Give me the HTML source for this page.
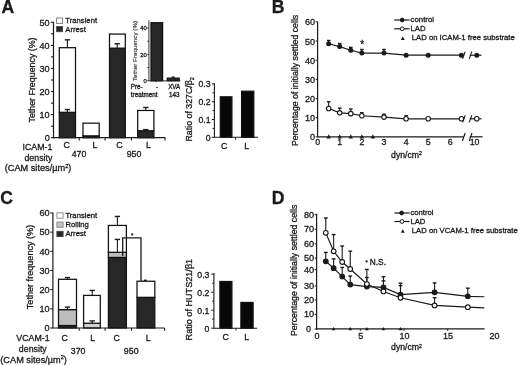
<!DOCTYPE html>
<html><head><meta charset="utf-8"><style>
html,body{margin:0;padding:0;background:#fff;}
svg{display:block;filter:blur(0.35px);}
text{font-family:"Liberation Sans",sans-serif;stroke:#1a1a1a;stroke-width:0.3px;paint-order:stroke;}
</style></head><body>
<svg width="520" height="365" viewBox="0 0 520 365">
<rect width="520" height="365" fill="#fff"/>
<text x="1.60" y="12.90" font-size="17.6" text-anchor="start" font-weight="bold" fill="#1a1a1a">A</text>
<text x="271.80" y="12.70" font-size="17.6" text-anchor="start" font-weight="bold" fill="#1a1a1a">B</text>
<text x="0.20" y="203.60" font-size="17.6" text-anchor="start" font-weight="bold" fill="#1a1a1a">C</text>
<text x="271.80" y="203.50" font-size="17.6" text-anchor="start" font-weight="bold" fill="#1a1a1a">D</text>
<rect x="59.30" y="112.31" width="16.20" height="25.39" fill="#272727" stroke="#111" stroke-width="1.25"/>
<rect x="59.30" y="47.69" width="16.20" height="64.62" fill="#fff" stroke="#111" stroke-width="1.25"/>
<line x1="67.40" y1="47.69" x2="67.40" y2="39.84" stroke="#1a1a1a" stroke-width="1.1"/>
<line x1="64.75" y1="39.84" x2="70.05" y2="39.84" stroke="#1a1a1a" stroke-width="1.4"/>
<line x1="67.40" y1="112.31" x2="67.40" y2="109.54" stroke="#1a1a1a" stroke-width="1.1"/>
<line x1="64.75" y1="109.54" x2="70.05" y2="109.54" stroke="#1a1a1a" stroke-width="1.4"/>
<rect x="83.00" y="135.85" width="16.20" height="1.85" fill="#272727" stroke="#111" stroke-width="1.25"/>
<rect x="83.00" y="123.16" width="16.20" height="12.69" fill="#fff" stroke="#111" stroke-width="1.25"/>
<rect x="109.50" y="48.15" width="15.80" height="89.55" fill="#272727" stroke="#111" stroke-width="1.25"/>
<rect x="109.50" y="34.07" width="15.80" height="14.08" fill="#fff" stroke="#111" stroke-width="1.25"/>
<line x1="117.20" y1="48.15" x2="117.20" y2="43.76" stroke="#1a1a1a" stroke-width="1.1"/>
<line x1="114.55" y1="43.76" x2="119.85" y2="43.76" stroke="#1a1a1a" stroke-width="1.4"/>
<rect x="137.70" y="130.78" width="16.20" height="6.92" fill="#272727" stroke="#111" stroke-width="1.25"/>
<rect x="137.70" y="110.47" width="16.20" height="20.31" fill="#fff" stroke="#111" stroke-width="1.25"/>
<line x1="145.80" y1="110.47" x2="145.80" y2="107.47" stroke="#1a1a1a" stroke-width="1.1"/>
<line x1="143.15" y1="107.47" x2="148.45" y2="107.47" stroke="#1a1a1a" stroke-width="1.4"/>
<line x1="145.80" y1="130.78" x2="145.80" y2="129.62" stroke="#1a1a1a" stroke-width="1.1"/>
<line x1="143.15" y1="129.62" x2="148.45" y2="129.62" stroke="#1a1a1a" stroke-width="1.4"/>
<line x1="53.50" y1="21.80" x2="53.50" y2="138.30" stroke="#1a1a1a" stroke-width="1.2"/>
<line x1="52.90" y1="137.70" x2="165.30" y2="137.70" stroke="#1a1a1a" stroke-width="1.2"/>
<line x1="50.90" y1="137.70" x2="53.50" y2="137.70" stroke="#1a1a1a" stroke-width="1.1"/>
<line x1="50.90" y1="126.16" x2="53.50" y2="126.16" stroke="#1a1a1a" stroke-width="1.1"/>
<line x1="50.90" y1="114.62" x2="53.50" y2="114.62" stroke="#1a1a1a" stroke-width="1.1"/>
<line x1="50.90" y1="103.08" x2="53.50" y2="103.08" stroke="#1a1a1a" stroke-width="1.1"/>
<line x1="50.90" y1="91.54" x2="53.50" y2="91.54" stroke="#1a1a1a" stroke-width="1.1"/>
<line x1="50.90" y1="80.00" x2="53.50" y2="80.00" stroke="#1a1a1a" stroke-width="1.1"/>
<line x1="50.90" y1="68.46" x2="53.50" y2="68.46" stroke="#1a1a1a" stroke-width="1.1"/>
<line x1="50.90" y1="56.92" x2="53.50" y2="56.92" stroke="#1a1a1a" stroke-width="1.1"/>
<line x1="50.90" y1="45.38" x2="53.50" y2="45.38" stroke="#1a1a1a" stroke-width="1.1"/>
<line x1="50.90" y1="33.84" x2="53.50" y2="33.84" stroke="#1a1a1a" stroke-width="1.1"/>
<line x1="50.90" y1="22.30" x2="53.50" y2="22.30" stroke="#1a1a1a" stroke-width="1.1"/>
<text x="49.70" y="141.00" font-size="9.1" text-anchor="end" font-weight="normal" fill="#1a1a1a">0</text>
<text x="49.70" y="117.92" font-size="9.1" text-anchor="end" font-weight="normal" fill="#1a1a1a">10</text>
<text x="49.70" y="94.84" font-size="9.1" text-anchor="end" font-weight="normal" fill="#1a1a1a">20</text>
<text x="49.70" y="71.76" font-size="9.1" text-anchor="end" font-weight="normal" fill="#1a1a1a">30</text>
<text x="49.70" y="48.68" font-size="9.1" text-anchor="end" font-weight="normal" fill="#1a1a1a">40</text>
<text x="49.70" y="25.60" font-size="9.1" text-anchor="end" font-weight="normal" fill="#1a1a1a">50</text>
<line x1="79.20" y1="137.70" x2="79.20" y2="140.40" stroke="#1a1a1a" stroke-width="1.1"/>
<line x1="105.10" y1="137.70" x2="105.10" y2="140.40" stroke="#1a1a1a" stroke-width="1.1"/>
<line x1="131.40" y1="137.70" x2="131.40" y2="140.40" stroke="#1a1a1a" stroke-width="1.1"/>
<line x1="165.00" y1="137.70" x2="165.00" y2="140.40" stroke="#1a1a1a" stroke-width="1.1"/>
<rect x="56.60" y="18.00" width="6.00" height="5.40" fill="#fff" stroke="#777" stroke-width="0.9"/>
<text x="65.30" y="23.20" font-size="7.7" text-anchor="start" font-weight="normal" fill="#1a1a1a">Transient</text>
<rect x="56.60" y="26.60" width="6.00" height="5.10" fill="#272727" stroke="#444" stroke-width="0.9"/>
<text x="65.30" y="31.70" font-size="7.7" text-anchor="start" font-weight="normal" fill="#1a1a1a">Arrest</text>
<text x="35.20" y="80.00" font-size="8.85" text-anchor="middle" font-weight="normal" fill="#1a1a1a" transform="rotate(-90 35.20 80.00)">Tether Frequency (%)</text>
<text x="66.60" y="148.40" font-size="8.8" text-anchor="middle" font-weight="normal" fill="#1a1a1a">C</text>
<text x="95.00" y="148.40" font-size="8.8" text-anchor="middle" font-weight="normal" fill="#1a1a1a">L</text>
<text x="119.40" y="148.40" font-size="8.8" text-anchor="middle" font-weight="normal" fill="#1a1a1a">C</text>
<text x="148.40" y="148.40" font-size="8.8" text-anchor="middle" font-weight="normal" fill="#1a1a1a">L</text>
<text x="79.00" y="156.80" font-size="8.8" text-anchor="middle" font-weight="normal" fill="#1a1a1a">470</text>
<text x="134.00" y="156.80" font-size="8.8" text-anchor="middle" font-weight="normal" fill="#1a1a1a">950</text>
<text x="52.40" y="149.80" font-size="8.8" text-anchor="end" font-weight="normal" fill="#1a1a1a">ICAM-1</text>
<text x="38.40" y="160.60" font-size="8.8" text-anchor="middle" font-weight="normal" fill="#1a1a1a">density</text>
<text x="38.00" y="171.40" font-size="9.2" text-anchor="middle" font-weight="normal" fill="#1a1a1a">(CAM sites/&#181;m<tspan font-size="5.5" dy="-3.5">2</tspan><tspan dy="3.5">)</tspan></text>
<rect x="151.00" y="22.72" width="11.60" height="58.08" fill="#272727" stroke="#111" stroke-width="1.25"/>
<rect x="167.30" y="78.16" width="11.90" height="2.64" fill="#272727" stroke="#111" stroke-width="1.25"/>
<line x1="173.20" y1="78.16" x2="173.20" y2="77.10" stroke="#1a1a1a" stroke-width="1.1"/>
<line x1="171.70" y1="77.10" x2="174.70" y2="77.10" stroke="#1a1a1a" stroke-width="1.4"/>
<line x1="148.90" y1="20.30" x2="148.90" y2="80.90" stroke="#1a1a1a" stroke-width="0.9"/>
<line x1="148.90" y1="80.80" x2="180.40" y2="80.80" stroke="#1a1a1a" stroke-width="0.9"/>
<line x1="147.10" y1="80.80" x2="148.90" y2="80.80" stroke="#1a1a1a" stroke-width="0.8"/>
<line x1="147.10" y1="67.60" x2="148.90" y2="67.60" stroke="#1a1a1a" stroke-width="0.8"/>
<line x1="147.10" y1="54.40" x2="148.90" y2="54.40" stroke="#1a1a1a" stroke-width="0.8"/>
<line x1="147.10" y1="41.20" x2="148.90" y2="41.20" stroke="#1a1a1a" stroke-width="0.8"/>
<line x1="147.10" y1="28.00" x2="148.90" y2="28.00" stroke="#1a1a1a" stroke-width="0.8"/>
<text x="146.80" y="82.90" font-size="5.8" text-anchor="end" font-weight="normal" fill="#1a1a1a">0</text>
<text x="146.80" y="56.50" font-size="5.8" text-anchor="end" font-weight="normal" fill="#1a1a1a">20</text>
<text x="146.80" y="30.10" font-size="5.8" text-anchor="end" font-weight="normal" fill="#1a1a1a">40</text>
<line x1="156.00" y1="80.80" x2="156.00" y2="82.30" stroke="#1a1a1a" stroke-width="0.8"/>
<text x="137.20" y="51.00" font-size="6.25" text-anchor="middle" font-weight="normal" fill="#333" transform="rotate(-90 137.20 51.00)" style="stroke-width:0.15px;stroke:#333">Tether Frequency (%)</text>
<text x="130.80" y="89.30" font-size="6.3" text-anchor="start" font-weight="normal" fill="#1a1a1a">Pre-</text>
<text x="130.80" y="97.00" font-size="6.3" text-anchor="start" font-weight="normal" fill="#1a1a1a">treatment</text>
<text x="157.00" y="89.30" font-size="6.3" text-anchor="middle" font-weight="normal" fill="#1a1a1a">-</text>
<text x="174.20" y="89.30" font-size="6.3" text-anchor="middle" font-weight="normal" fill="#1a1a1a">XVA</text>
<text x="174.30" y="97.00" font-size="6.3" text-anchor="middle" font-weight="normal" fill="#1a1a1a">143</text>
<rect x="220.30" y="96.81" width="11.60" height="40.50" fill="#080808" stroke="#111" stroke-width="1.25"/>
<rect x="241.60" y="91.20" width="12.20" height="46.10" fill="#080808" stroke="#111" stroke-width="1.25"/>
<line x1="214.40" y1="83.20" x2="214.40" y2="137.80" stroke="#1a1a1a" stroke-width="1.1"/>
<line x1="214.40" y1="137.30" x2="258.00" y2="137.30" stroke="#1a1a1a" stroke-width="1.1"/>
<line x1="211.80" y1="137.30" x2="214.40" y2="137.30" stroke="#1a1a1a" stroke-width="1.0"/>
<line x1="212.60" y1="128.40" x2="214.40" y2="128.40" stroke="#1a1a1a" stroke-width="1.0"/>
<line x1="211.80" y1="119.50" x2="214.40" y2="119.50" stroke="#1a1a1a" stroke-width="1.0"/>
<line x1="212.60" y1="110.60" x2="214.40" y2="110.60" stroke="#1a1a1a" stroke-width="1.0"/>
<line x1="211.80" y1="101.70" x2="214.40" y2="101.70" stroke="#1a1a1a" stroke-width="1.0"/>
<line x1="212.60" y1="92.80" x2="214.40" y2="92.80" stroke="#1a1a1a" stroke-width="1.0"/>
<line x1="211.80" y1="83.90" x2="214.40" y2="83.90" stroke="#1a1a1a" stroke-width="1.0"/>
<text x="210.60" y="140.60" font-size="8.7" text-anchor="end" font-weight="normal" fill="#1a1a1a">0</text>
<text x="210.60" y="122.80" font-size="8.7" text-anchor="end" font-weight="normal" fill="#1a1a1a">0.1</text>
<text x="210.60" y="105.00" font-size="8.7" text-anchor="end" font-weight="normal" fill="#1a1a1a">0.2</text>
<text x="210.60" y="87.20" font-size="8.7" text-anchor="end" font-weight="normal" fill="#1a1a1a">0.3</text>
<line x1="235.50" y1="137.30" x2="235.50" y2="139.60" stroke="#1a1a1a" stroke-width="1.0"/>
<text x="224.30" y="149.20" font-size="8.8" text-anchor="middle" font-weight="normal" fill="#1a1a1a">C</text>
<text x="246.80" y="149.20" font-size="8.8" text-anchor="middle" font-weight="normal" fill="#1a1a1a">L</text>
<text x="192.40" y="109.30" font-size="8.8" text-anchor="middle" font-weight="normal" fill="#1a1a1a" transform="rotate(-90 192.40 109.30)">Ratio of 327C/&#946;<tspan font-size="5.5" dy="2">2</tspan></text>
<line x1="317.60" y1="21.60" x2="317.60" y2="137.30" stroke="#1a1a1a" stroke-width="1.2"/>
<line x1="315.60" y1="136.80" x2="317.60" y2="136.80" stroke="#1a1a1a" stroke-width="1.0"/>
<text x="315.10" y="140.30" font-size="9.1" text-anchor="end" font-weight="normal" fill="#1a1a1a">0</text>
<line x1="315.60" y1="117.65" x2="317.60" y2="117.65" stroke="#1a1a1a" stroke-width="1.0"/>
<text x="315.10" y="121.15" font-size="9.1" text-anchor="end" font-weight="normal" fill="#1a1a1a">10</text>
<line x1="315.60" y1="98.50" x2="317.60" y2="98.50" stroke="#1a1a1a" stroke-width="1.0"/>
<text x="315.10" y="102.00" font-size="9.1" text-anchor="end" font-weight="normal" fill="#1a1a1a">20</text>
<line x1="315.60" y1="79.35" x2="317.60" y2="79.35" stroke="#1a1a1a" stroke-width="1.0"/>
<text x="315.10" y="82.85" font-size="9.1" text-anchor="end" font-weight="normal" fill="#1a1a1a">30</text>
<line x1="315.60" y1="60.20" x2="317.60" y2="60.20" stroke="#1a1a1a" stroke-width="1.0"/>
<text x="315.10" y="63.70" font-size="9.1" text-anchor="end" font-weight="normal" fill="#1a1a1a">40</text>
<line x1="315.60" y1="41.05" x2="317.60" y2="41.05" stroke="#1a1a1a" stroke-width="1.0"/>
<text x="315.10" y="44.55" font-size="9.1" text-anchor="end" font-weight="normal" fill="#1a1a1a">50</text>
<line x1="315.60" y1="21.90" x2="317.60" y2="21.90" stroke="#1a1a1a" stroke-width="1.0"/>
<text x="315.10" y="25.40" font-size="9.1" text-anchor="end" font-weight="normal" fill="#1a1a1a">60</text>
<line x1="317.60" y1="136.80" x2="463.80" y2="136.80" stroke="#1a1a1a" stroke-width="1.2"/>
<line x1="469.80" y1="136.80" x2="482.60" y2="136.80" stroke="#1a1a1a" stroke-width="1.2"/>
<line x1="462.40" y1="141.00" x2="465.20" y2="133.00" stroke="#1a1a1a" stroke-width="1.1"/>
<line x1="469.20" y1="141.00" x2="472.00" y2="133.00" stroke="#1a1a1a" stroke-width="1.1"/>
<text x="317.60" y="145.30" font-size="8.8" text-anchor="middle" font-weight="normal" fill="#1a1a1a">0</text>
<text x="339.72" y="145.30" font-size="8.8" text-anchor="middle" font-weight="normal" fill="#1a1a1a">1</text>
<text x="361.84" y="145.30" font-size="8.8" text-anchor="middle" font-weight="normal" fill="#1a1a1a">2</text>
<text x="383.96" y="145.30" font-size="8.8" text-anchor="middle" font-weight="normal" fill="#1a1a1a">3</text>
<text x="406.08" y="145.30" font-size="8.8" text-anchor="middle" font-weight="normal" fill="#1a1a1a">4</text>
<text x="428.20" y="145.30" font-size="8.8" text-anchor="middle" font-weight="normal" fill="#1a1a1a">5</text>
<text x="450.32" y="145.30" font-size="8.8" text-anchor="middle" font-weight="normal" fill="#1a1a1a">6</text>
<text x="474.60" y="145.30" font-size="8.8" text-anchor="middle" font-weight="normal" fill="#1a1a1a">10</text>
<text x="406.50" y="158.20" font-size="8.7" text-anchor="middle" font-weight="normal" fill="#1a1a1a">dyn/cm<tspan font-size="5.2" dy="-2.9">2</tspan></text>
<text x="298.00" y="80.40" font-size="8.75" text-anchor="middle" font-weight="normal" fill="#1a1a1a" transform="rotate(-90 298.00 80.40)">Percentage of initially settled cells</text>
<polyline points="328.66,43.73 339.72,46.60 350.78,50.24 361.84,53.11 383.96,53.11 406.08,55.22 428.20,55.22 461.38,55.22" fill="none" stroke="#1a1a1a" stroke-width="1.2"/>
<line x1="461.38" y1="55.22" x2="464.00" y2="55.22" stroke="#1a1a1a" stroke-width="1.2"/>
<line x1="469.80" y1="55.22" x2="481.50" y2="55.22" stroke="#1a1a1a" stroke-width="1.2"/>
<line x1="462.60" y1="58.82" x2="465.20" y2="51.62" stroke="#1a1a1a" stroke-width="1.1"/>
<line x1="469.20" y1="58.82" x2="471.80" y2="51.62" stroke="#1a1a1a" stroke-width="1.1"/>
<line x1="328.66" y1="43.73" x2="328.66" y2="40.48" stroke="#1a1a1a" stroke-width="1.1"/>
<line x1="326.86" y1="40.48" x2="330.46" y2="40.48" stroke="#1a1a1a" stroke-width="1.4"/>
<line x1="339.72" y1="46.60" x2="339.72" y2="43.54" stroke="#1a1a1a" stroke-width="1.1"/>
<line x1="337.92" y1="43.54" x2="341.52" y2="43.54" stroke="#1a1a1a" stroke-width="1.4"/>
<line x1="350.78" y1="50.24" x2="350.78" y2="47.37" stroke="#1a1a1a" stroke-width="1.1"/>
<line x1="348.98" y1="47.37" x2="352.58" y2="47.37" stroke="#1a1a1a" stroke-width="1.4"/>
<line x1="361.84" y1="53.11" x2="361.84" y2="49.48" stroke="#1a1a1a" stroke-width="1.1"/>
<line x1="360.04" y1="49.48" x2="363.64" y2="49.48" stroke="#1a1a1a" stroke-width="1.4"/>
<line x1="383.96" y1="53.11" x2="383.96" y2="49.48" stroke="#1a1a1a" stroke-width="1.1"/>
<line x1="382.16" y1="49.48" x2="385.76" y2="49.48" stroke="#1a1a1a" stroke-width="1.4"/>
<circle cx="328.66" cy="43.73" r="1.95" fill="#1a1a1a" stroke="#1a1a1a" stroke-width="1.1"/>
<circle cx="339.72" cy="46.60" r="1.95" fill="#1a1a1a" stroke="#1a1a1a" stroke-width="1.1"/>
<circle cx="350.78" cy="50.24" r="1.95" fill="#1a1a1a" stroke="#1a1a1a" stroke-width="1.1"/>
<circle cx="361.84" cy="53.11" r="1.95" fill="#1a1a1a" stroke="#1a1a1a" stroke-width="1.1"/>
<circle cx="383.96" cy="53.11" r="1.95" fill="#1a1a1a" stroke="#1a1a1a" stroke-width="1.1"/>
<circle cx="406.08" cy="55.22" r="1.95" fill="#1a1a1a" stroke="#1a1a1a" stroke-width="1.1"/>
<circle cx="428.20" cy="55.22" r="1.95" fill="#1a1a1a" stroke="#1a1a1a" stroke-width="1.1"/>
<circle cx="461.38" cy="55.22" r="1.95" fill="#1a1a1a" stroke="#1a1a1a" stroke-width="1.1"/>
<circle cx="476.80" cy="55.22" r="1.95" fill="#1a1a1a" stroke="#1a1a1a" stroke-width="1.1"/>
<polyline points="328.66,108.46 339.72,112.86 350.78,113.63 361.84,115.74 383.96,117.08 406.08,118.80 428.20,118.80 461.38,118.80" fill="none" stroke="#1a1a1a" stroke-width="1.2"/>
<line x1="461.38" y1="118.80" x2="464.00" y2="118.80" stroke="#1a1a1a" stroke-width="1.2"/>
<line x1="469.80" y1="118.80" x2="481.50" y2="118.80" stroke="#1a1a1a" stroke-width="1.2"/>
<line x1="462.60" y1="122.40" x2="465.20" y2="115.20" stroke="#1a1a1a" stroke-width="1.1"/>
<line x1="469.20" y1="122.40" x2="471.80" y2="115.20" stroke="#1a1a1a" stroke-width="1.1"/>
<line x1="328.66" y1="108.46" x2="328.66" y2="101.76" stroke="#1a1a1a" stroke-width="1.1"/>
<line x1="326.86" y1="101.76" x2="330.46" y2="101.76" stroke="#1a1a1a" stroke-width="1.4"/>
<line x1="339.72" y1="112.86" x2="339.72" y2="108.08" stroke="#1a1a1a" stroke-width="1.1"/>
<line x1="337.92" y1="108.08" x2="341.52" y2="108.08" stroke="#1a1a1a" stroke-width="1.4"/>
<line x1="350.78" y1="113.63" x2="350.78" y2="109.03" stroke="#1a1a1a" stroke-width="1.1"/>
<line x1="348.98" y1="109.03" x2="352.58" y2="109.03" stroke="#1a1a1a" stroke-width="1.4"/>
<line x1="361.84" y1="115.74" x2="361.84" y2="112.67" stroke="#1a1a1a" stroke-width="1.1"/>
<line x1="360.04" y1="112.67" x2="363.64" y2="112.67" stroke="#1a1a1a" stroke-width="1.4"/>
<line x1="383.96" y1="117.08" x2="383.96" y2="114.20" stroke="#1a1a1a" stroke-width="1.1"/>
<line x1="382.16" y1="114.20" x2="385.76" y2="114.20" stroke="#1a1a1a" stroke-width="1.4"/>
<line x1="406.08" y1="118.80" x2="406.08" y2="115.74" stroke="#1a1a1a" stroke-width="1.1"/>
<line x1="404.28" y1="115.74" x2="407.88" y2="115.74" stroke="#1a1a1a" stroke-width="1.4"/>
<circle cx="328.66" cy="108.46" r="2.25" fill="#fff" stroke="#1a1a1a" stroke-width="1.1"/>
<circle cx="339.72" cy="112.86" r="2.25" fill="#fff" stroke="#1a1a1a" stroke-width="1.1"/>
<circle cx="350.78" cy="113.63" r="2.25" fill="#fff" stroke="#1a1a1a" stroke-width="1.1"/>
<circle cx="361.84" cy="115.74" r="2.25" fill="#fff" stroke="#1a1a1a" stroke-width="1.1"/>
<circle cx="383.96" cy="117.08" r="2.25" fill="#fff" stroke="#1a1a1a" stroke-width="1.1"/>
<circle cx="406.08" cy="118.80" r="2.25" fill="#fff" stroke="#1a1a1a" stroke-width="1.1"/>
<circle cx="428.20" cy="118.80" r="2.25" fill="#fff" stroke="#1a1a1a" stroke-width="1.1"/>
<circle cx="461.38" cy="118.80" r="2.25" fill="#fff" stroke="#1a1a1a" stroke-width="1.1"/>
<circle cx="476.80" cy="118.80" r="2.25" fill="#fff" stroke="#1a1a1a" stroke-width="1.1"/>
<path d="M326.46,138.50 L330.86,138.50 L328.66,134.30 Z" fill="#1a1a1a"/>
<path d="M337.52,138.50 L341.92,138.50 L339.72,134.30 Z" fill="#1a1a1a"/>
<path d="M348.58,138.50 L352.98,138.50 L350.78,134.30 Z" fill="#1a1a1a"/>
<path d="M359.64,138.50 L364.04,138.50 L361.84,134.30 Z" fill="#1a1a1a"/>
<path d="M370.70,138.50 L375.10,138.50 L372.90,134.30 Z" fill="#1a1a1a"/>
<text x="362.10" y="48.20" font-size="10" text-anchor="middle" font-weight="normal" fill="#1a1a1a">*</text>
<line x1="394.20" y1="20.00" x2="409.60" y2="20.00" stroke="#1a1a1a" stroke-width="1.2"/>
<circle cx="402.20" cy="20.00" r="1.9" fill="#1a1a1a" stroke="#1a1a1a" stroke-width="1.0"/>
<text x="410.60" y="22.10" font-size="7.8" text-anchor="start" font-weight="normal" fill="#1a1a1a">control</text>
<line x1="394.20" y1="28.80" x2="409.60" y2="28.80" stroke="#1a1a1a" stroke-width="1.2"/>
<circle cx="402.20" cy="28.80" r="1.9" fill="#fff" stroke="#1a1a1a" stroke-width="1.0"/>
<text x="410.60" y="31.40" font-size="7.7" text-anchor="start" font-weight="normal" fill="#1a1a1a">LAD</text>
<path d="M400.80,40.10 L404.80,40.10 L402.80,36.50 Z" fill="#1a1a1a"/>
<text x="411.80" y="40.40" font-size="7.7" text-anchor="start" font-weight="normal" fill="#1a1a1a">LAD on ICAM-1 free substrate</text>
<rect x="58.50" y="325.51" width="18.00" height="2.49" fill="#272727" stroke="#111" stroke-width="1.25"/>
<rect x="58.50" y="309.60" width="18.00" height="15.91" fill="#bdbdbd" stroke="#111" stroke-width="1.25"/>
<rect x="58.50" y="279.31" width="18.00" height="30.29" fill="#fff" stroke="#111" stroke-width="1.25"/>
<line x1="67.50" y1="279.31" x2="67.50" y2="277.58" stroke="#1a1a1a" stroke-width="1.1"/>
<line x1="64.85" y1="277.58" x2="70.15" y2="277.58" stroke="#1a1a1a" stroke-width="1.4"/>
<line x1="67.50" y1="309.60" x2="67.50" y2="307.10" stroke="#1a1a1a" stroke-width="1.1"/>
<line x1="64.85" y1="307.10" x2="70.15" y2="307.10" stroke="#1a1a1a" stroke-width="1.4"/>
<rect x="83.60" y="323.21" width="16.70" height="4.79" fill="#d0d0d0" stroke="#111" stroke-width="1.25"/>
<rect x="83.60" y="295.41" width="16.70" height="27.80" fill="#fff" stroke="#111" stroke-width="1.25"/>
<line x1="92.20" y1="295.41" x2="92.20" y2="290.43" stroke="#1a1a1a" stroke-width="1.1"/>
<line x1="89.55" y1="290.43" x2="94.85" y2="290.43" stroke="#1a1a1a" stroke-width="1.4"/>
<line x1="92.20" y1="323.21" x2="92.20" y2="320.91" stroke="#1a1a1a" stroke-width="1.1"/>
<line x1="89.55" y1="320.91" x2="94.85" y2="320.91" stroke="#1a1a1a" stroke-width="1.4"/>
<rect x="108.40" y="257.45" width="18.00" height="70.55" fill="#272727" stroke="#111" stroke-width="1.25"/>
<rect x="108.40" y="252.28" width="18.00" height="5.18" fill="#bdbdbd" stroke="#111" stroke-width="1.25"/>
<rect x="108.40" y="225.44" width="18.00" height="26.84" fill="#fff" stroke="#111" stroke-width="1.25"/>
<line x1="117.40" y1="225.44" x2="117.40" y2="216.43" stroke="#1a1a1a" stroke-width="1.1"/>
<line x1="114.75" y1="216.43" x2="120.05" y2="216.43" stroke="#1a1a1a" stroke-width="1.4"/>
<line x1="117.40" y1="252.28" x2="117.40" y2="239.43" stroke="#1a1a1a" stroke-width="1.1"/>
<line x1="114.75" y1="239.43" x2="120.05" y2="239.43" stroke="#1a1a1a" stroke-width="1.4"/>
<rect x="137.00" y="297.33" width="17.80" height="30.67" fill="#272727" stroke="#111" stroke-width="1.25"/>
<rect x="137.00" y="281.23" width="17.80" height="16.10" fill="#fff" stroke="#111" stroke-width="1.25"/>
<line x1="145.30" y1="281.23" x2="145.30" y2="280.27" stroke="#1a1a1a" stroke-width="1.1"/>
<line x1="143.80" y1="280.27" x2="146.80" y2="280.27" stroke="#1a1a1a" stroke-width="1.4"/>
<path d="M122.7,256.11 L122.7,237.9 L141.0,237.9 L141.0,281.23" fill="none" stroke="#1a1a1a" stroke-width="1.3"/>
<circle cx="132.20" cy="234.40" r="1.15" fill="#1a1a1a" stroke="none" stroke-width="0"/>
<line x1="52.90" y1="212.60" x2="52.90" y2="328.30" stroke="#1a1a1a" stroke-width="1.2"/>
<line x1="52.30" y1="328.00" x2="164.60" y2="328.00" stroke="#1a1a1a" stroke-width="1.2"/>
<line x1="50.20" y1="328.00" x2="52.90" y2="328.00" stroke="#1a1a1a" stroke-width="1.0"/>
<line x1="50.20" y1="308.83" x2="52.90" y2="308.83" stroke="#1a1a1a" stroke-width="1.0"/>
<line x1="50.20" y1="289.66" x2="52.90" y2="289.66" stroke="#1a1a1a" stroke-width="1.0"/>
<line x1="50.20" y1="270.49" x2="52.90" y2="270.49" stroke="#1a1a1a" stroke-width="1.0"/>
<line x1="50.20" y1="251.32" x2="52.90" y2="251.32" stroke="#1a1a1a" stroke-width="1.0"/>
<line x1="50.20" y1="232.15" x2="52.90" y2="232.15" stroke="#1a1a1a" stroke-width="1.0"/>
<line x1="50.20" y1="212.98" x2="52.90" y2="212.98" stroke="#1a1a1a" stroke-width="1.0"/>
<text x="49.50" y="331.20" font-size="9.1" text-anchor="end" font-weight="normal" fill="#1a1a1a">0</text>
<text x="49.50" y="312.03" font-size="9.1" text-anchor="end" font-weight="normal" fill="#1a1a1a">10</text>
<text x="49.50" y="292.86" font-size="9.1" text-anchor="end" font-weight="normal" fill="#1a1a1a">20</text>
<text x="49.50" y="273.69" font-size="9.1" text-anchor="end" font-weight="normal" fill="#1a1a1a">30</text>
<text x="49.50" y="254.52" font-size="9.1" text-anchor="end" font-weight="normal" fill="#1a1a1a">40</text>
<text x="49.50" y="235.35" font-size="9.1" text-anchor="end" font-weight="normal" fill="#1a1a1a">50</text>
<text x="49.50" y="216.18" font-size="9.1" text-anchor="end" font-weight="normal" fill="#1a1a1a">60</text>
<line x1="79.20" y1="328.00" x2="79.20" y2="330.70" stroke="#1a1a1a" stroke-width="1.1"/>
<line x1="105.10" y1="328.00" x2="105.10" y2="330.70" stroke="#1a1a1a" stroke-width="1.1"/>
<line x1="131.50" y1="328.00" x2="131.50" y2="330.70" stroke="#1a1a1a" stroke-width="1.1"/>
<line x1="164.60" y1="328.00" x2="164.60" y2="330.70" stroke="#1a1a1a" stroke-width="1.1"/>
<rect x="56.90" y="212.80" width="6.20" height="5.40" fill="#fff" stroke="#888" stroke-width="0.9"/>
<text x="65.40" y="218.20" font-size="7.7" text-anchor="start" font-weight="normal" fill="#1a1a1a">Transient</text>
<rect x="56.90" y="222.00" width="6.20" height="5.30" fill="#c4c4c4" stroke="#888" stroke-width="0.9"/>
<text x="65.40" y="227.40" font-size="7.7" text-anchor="start" font-weight="normal" fill="#1a1a1a">Rolling</text>
<rect x="56.90" y="231.30" width="6.20" height="5.30" fill="#272727" stroke="#444" stroke-width="0.9"/>
<text x="65.40" y="236.00" font-size="7.7" text-anchor="start" font-weight="normal" fill="#1a1a1a">Arrest</text>
<text x="32.60" y="267.00" font-size="9.1" text-anchor="middle" font-weight="normal" fill="#1a1a1a" transform="rotate(-90 32.60 267.00)">Tether frequency (%)</text>
<text x="64.80" y="341.20" font-size="8.8" text-anchor="middle" font-weight="normal" fill="#1a1a1a">C</text>
<text x="92.60" y="341.20" font-size="8.8" text-anchor="middle" font-weight="normal" fill="#1a1a1a">L</text>
<text x="116.70" y="341.20" font-size="8.8" text-anchor="middle" font-weight="normal" fill="#1a1a1a">C</text>
<text x="148.20" y="341.20" font-size="8.8" text-anchor="middle" font-weight="normal" fill="#1a1a1a">L</text>
<text x="78.10" y="354.20" font-size="8.8" text-anchor="middle" font-weight="normal" fill="#1a1a1a">370</text>
<text x="131.20" y="354.20" font-size="8.8" text-anchor="middle" font-weight="normal" fill="#1a1a1a">950</text>
<text x="49.60" y="341.20" font-size="8.8" text-anchor="end" font-weight="normal" fill="#1a1a1a">VCAM-1</text>
<text x="32.80" y="352.00" font-size="8.8" text-anchor="middle" font-weight="normal" fill="#1a1a1a">density</text>
<text x="33.60" y="362.60" font-size="9.2" text-anchor="middle" font-weight="normal" fill="#1a1a1a">(CAM sites/&#181;m<tspan font-size="5.5" dy="-3.5">2</tspan><tspan dy="3.5">)</tspan></text>
<rect x="219.90" y="281.49" width="12.00" height="46.71" fill="#080808" stroke="#111" stroke-width="1.25"/>
<rect x="240.90" y="302.46" width="12.20" height="25.74" fill="#080808" stroke="#111" stroke-width="1.25"/>
<line x1="213.90" y1="273.00" x2="213.90" y2="328.70" stroke="#1a1a1a" stroke-width="1.1"/>
<line x1="213.90" y1="328.20" x2="257.20" y2="328.20" stroke="#1a1a1a" stroke-width="1.1"/>
<line x1="211.30" y1="328.20" x2="213.90" y2="328.20" stroke="#1a1a1a" stroke-width="1.0"/>
<line x1="212.10" y1="319.20" x2="213.90" y2="319.20" stroke="#1a1a1a" stroke-width="1.0"/>
<line x1="211.30" y1="310.20" x2="213.90" y2="310.20" stroke="#1a1a1a" stroke-width="1.0"/>
<line x1="212.10" y1="301.20" x2="213.90" y2="301.20" stroke="#1a1a1a" stroke-width="1.0"/>
<line x1="211.30" y1="292.20" x2="213.90" y2="292.20" stroke="#1a1a1a" stroke-width="1.0"/>
<line x1="212.10" y1="283.20" x2="213.90" y2="283.20" stroke="#1a1a1a" stroke-width="1.0"/>
<line x1="211.30" y1="274.20" x2="213.90" y2="274.20" stroke="#1a1a1a" stroke-width="1.0"/>
<text x="209.40" y="331.80" font-size="8.7" text-anchor="end" font-weight="normal" fill="#1a1a1a">0</text>
<text x="209.40" y="313.80" font-size="8.7" text-anchor="end" font-weight="normal" fill="#1a1a1a">0.1</text>
<text x="209.40" y="295.80" font-size="8.7" text-anchor="end" font-weight="normal" fill="#1a1a1a">0.2</text>
<text x="209.40" y="277.80" font-size="8.7" text-anchor="end" font-weight="normal" fill="#1a1a1a">0.3</text>
<line x1="236.00" y1="328.20" x2="236.00" y2="330.50" stroke="#1a1a1a" stroke-width="1.0"/>
<text x="225.60" y="339.60" font-size="8.8" text-anchor="middle" font-weight="normal" fill="#1a1a1a">C</text>
<text x="246.70" y="339.60" font-size="8.8" text-anchor="middle" font-weight="normal" fill="#1a1a1a">L</text>
<text x="192.50" y="299.60" font-size="9.1" text-anchor="middle" font-weight="normal" fill="#1a1a1a" transform="rotate(-90 192.50 299.60)">Ratio of HUTS21/&#946;1</text>
<line x1="316.60" y1="213.80" x2="316.60" y2="329.40" stroke="#1a1a1a" stroke-width="1.2"/>
<line x1="316.00" y1="328.90" x2="484.60" y2="328.90" stroke="#1a1a1a" stroke-width="1.2"/>
<line x1="314.60" y1="329.00" x2="316.60" y2="329.00" stroke="#1a1a1a" stroke-width="1.0"/>
<text x="311.00" y="332.00" font-size="9.1" text-anchor="end" font-weight="normal" fill="#1a1a1a">0</text>
<line x1="314.60" y1="314.40" x2="316.60" y2="314.40" stroke="#1a1a1a" stroke-width="1.0"/>
<text x="314.20" y="317.40" font-size="9.1" text-anchor="end" font-weight="normal" fill="#1a1a1a">10</text>
<line x1="314.60" y1="299.90" x2="316.60" y2="299.90" stroke="#1a1a1a" stroke-width="1.0"/>
<text x="314.20" y="302.90" font-size="9.1" text-anchor="end" font-weight="normal" fill="#1a1a1a">20</text>
<line x1="314.60" y1="286.00" x2="316.60" y2="286.00" stroke="#1a1a1a" stroke-width="1.0"/>
<text x="314.20" y="289.00" font-size="9.1" text-anchor="end" font-weight="normal" fill="#1a1a1a">30</text>
<line x1="314.60" y1="269.60" x2="316.60" y2="269.60" stroke="#1a1a1a" stroke-width="1.0"/>
<text x="314.20" y="272.60" font-size="9.1" text-anchor="end" font-weight="normal" fill="#1a1a1a">40</text>
<line x1="314.60" y1="258.10" x2="316.60" y2="258.10" stroke="#1a1a1a" stroke-width="1.0"/>
<text x="314.20" y="261.10" font-size="9.1" text-anchor="end" font-weight="normal" fill="#1a1a1a">50</text>
<line x1="314.60" y1="243.80" x2="316.60" y2="243.80" stroke="#1a1a1a" stroke-width="1.0"/>
<text x="314.20" y="246.80" font-size="9.1" text-anchor="end" font-weight="normal" fill="#1a1a1a">60</text>
<line x1="314.60" y1="229.20" x2="316.60" y2="229.20" stroke="#1a1a1a" stroke-width="1.0"/>
<text x="314.20" y="232.20" font-size="9.1" text-anchor="end" font-weight="normal" fill="#1a1a1a">70</text>
<line x1="314.60" y1="214.60" x2="316.60" y2="214.60" stroke="#1a1a1a" stroke-width="1.0"/>
<text x="314.20" y="217.60" font-size="9.1" text-anchor="end" font-weight="normal" fill="#1a1a1a">80</text>
<line x1="360.30" y1="328.90" x2="360.30" y2="330.90" stroke="#1a1a1a" stroke-width="1.0"/>
<line x1="404.00" y1="328.90" x2="404.00" y2="330.90" stroke="#1a1a1a" stroke-width="1.0"/>
<line x1="447.70" y1="328.90" x2="447.70" y2="330.90" stroke="#1a1a1a" stroke-width="1.0"/>
<text x="317.00" y="338.60" font-size="9.0" text-anchor="middle" font-weight="normal" fill="#1a1a1a">0</text>
<text x="360.70" y="338.60" font-size="9.0" text-anchor="middle" font-weight="normal" fill="#1a1a1a">5</text>
<text x="404.40" y="338.60" font-size="9.0" text-anchor="middle" font-weight="normal" fill="#1a1a1a">10</text>
<text x="448.10" y="338.60" font-size="9.0" text-anchor="middle" font-weight="normal" fill="#1a1a1a">15</text>
<text x="494.40" y="338.60" font-size="9.0" text-anchor="middle" font-weight="normal" fill="#1a1a1a">20</text>
<text x="406.50" y="350.40" font-size="8.7" text-anchor="middle" font-weight="normal" fill="#1a1a1a">dyn/cm<tspan font-size="5.2" dy="-2.9">2</tspan></text>
<text x="296.80" y="270.30" font-size="8.75" text-anchor="middle" font-weight="normal" fill="#1a1a1a" transform="rotate(-90 296.80 270.30)">Percentage of initially settled cells</text>
<polyline points="325.78,261.31 333.64,268.17 342.21,276.60 350.25,284.60 366.86,286.60 383.46,287.46 400.50,294.60 434.59,292.32 467.80,296.32 484.30,296.75" fill="none" stroke="#1a1a1a" stroke-width="1.2"/>
<polyline points="325.78,232.87 333.64,251.31 342.21,262.02 350.25,269.02 366.86,284.03 383.46,291.46 400.50,297.75 434.59,305.46 467.80,307.18 484.30,307.89" fill="none" stroke="#1a1a1a" stroke-width="1.2"/>
<line x1="325.78" y1="261.31" x2="325.78" y2="252.45" stroke="#1a1a1a" stroke-width="1.1"/>
<line x1="323.88" y1="252.45" x2="327.68" y2="252.45" stroke="#1a1a1a" stroke-width="1.4"/>
<line x1="333.64" y1="268.17" x2="333.64" y2="258.88" stroke="#1a1a1a" stroke-width="1.1"/>
<line x1="331.74" y1="258.88" x2="335.54" y2="258.88" stroke="#1a1a1a" stroke-width="1.4"/>
<line x1="342.21" y1="276.60" x2="342.21" y2="267.45" stroke="#1a1a1a" stroke-width="1.1"/>
<line x1="340.31" y1="267.45" x2="344.11" y2="267.45" stroke="#1a1a1a" stroke-width="1.4"/>
<line x1="350.25" y1="284.60" x2="350.25" y2="276.03" stroke="#1a1a1a" stroke-width="1.1"/>
<line x1="348.35" y1="276.03" x2="352.15" y2="276.03" stroke="#1a1a1a" stroke-width="1.4"/>
<line x1="366.86" y1="286.60" x2="366.86" y2="277.46" stroke="#1a1a1a" stroke-width="1.1"/>
<line x1="364.96" y1="277.46" x2="368.75" y2="277.46" stroke="#1a1a1a" stroke-width="1.4"/>
<line x1="383.46" y1="287.46" x2="383.46" y2="280.89" stroke="#1a1a1a" stroke-width="1.1"/>
<line x1="381.56" y1="280.89" x2="385.36" y2="280.89" stroke="#1a1a1a" stroke-width="1.4"/>
<line x1="400.50" y1="294.60" x2="400.50" y2="283.17" stroke="#1a1a1a" stroke-width="1.1"/>
<line x1="398.60" y1="283.17" x2="402.40" y2="283.17" stroke="#1a1a1a" stroke-width="1.4"/>
<line x1="434.59" y1="292.32" x2="434.59" y2="282.89" stroke="#1a1a1a" stroke-width="1.1"/>
<line x1="432.69" y1="282.89" x2="436.49" y2="282.89" stroke="#1a1a1a" stroke-width="1.4"/>
<line x1="467.80" y1="296.32" x2="467.80" y2="288.17" stroke="#1a1a1a" stroke-width="1.1"/>
<line x1="465.90" y1="288.17" x2="469.70" y2="288.17" stroke="#1a1a1a" stroke-width="1.4"/>
<line x1="325.78" y1="232.87" x2="325.78" y2="218.01" stroke="#1a1a1a" stroke-width="1.1"/>
<line x1="323.88" y1="218.01" x2="327.68" y2="218.01" stroke="#1a1a1a" stroke-width="1.4"/>
<line x1="333.64" y1="251.31" x2="333.64" y2="234.59" stroke="#1a1a1a" stroke-width="1.1"/>
<line x1="331.74" y1="234.59" x2="335.54" y2="234.59" stroke="#1a1a1a" stroke-width="1.4"/>
<line x1="342.21" y1="262.02" x2="342.21" y2="246.02" stroke="#1a1a1a" stroke-width="1.1"/>
<line x1="340.31" y1="246.02" x2="344.11" y2="246.02" stroke="#1a1a1a" stroke-width="1.4"/>
<line x1="350.25" y1="269.02" x2="350.25" y2="251.16" stroke="#1a1a1a" stroke-width="1.1"/>
<line x1="348.35" y1="251.16" x2="352.15" y2="251.16" stroke="#1a1a1a" stroke-width="1.4"/>
<line x1="366.86" y1="284.03" x2="366.86" y2="269.45" stroke="#1a1a1a" stroke-width="1.1"/>
<line x1="364.96" y1="269.45" x2="368.75" y2="269.45" stroke="#1a1a1a" stroke-width="1.4"/>
<line x1="383.46" y1="291.46" x2="383.46" y2="276.74" stroke="#1a1a1a" stroke-width="1.1"/>
<line x1="381.56" y1="276.74" x2="385.36" y2="276.74" stroke="#1a1a1a" stroke-width="1.4"/>
<line x1="400.50" y1="297.75" x2="400.50" y2="285.60" stroke="#1a1a1a" stroke-width="1.1"/>
<line x1="398.60" y1="285.60" x2="402.40" y2="285.60" stroke="#1a1a1a" stroke-width="1.4"/>
<line x1="434.59" y1="305.46" x2="434.59" y2="297.75" stroke="#1a1a1a" stroke-width="1.1"/>
<line x1="432.69" y1="297.75" x2="436.49" y2="297.75" stroke="#1a1a1a" stroke-width="1.4"/>
<circle cx="325.78" cy="261.31" r="2.35" fill="#1a1a1a" stroke="#1a1a1a" stroke-width="1.1"/>
<circle cx="333.64" cy="268.17" r="2.35" fill="#1a1a1a" stroke="#1a1a1a" stroke-width="1.1"/>
<circle cx="342.21" cy="276.60" r="2.35" fill="#1a1a1a" stroke="#1a1a1a" stroke-width="1.1"/>
<circle cx="350.25" cy="284.60" r="2.35" fill="#1a1a1a" stroke="#1a1a1a" stroke-width="1.1"/>
<circle cx="366.86" cy="286.60" r="2.35" fill="#1a1a1a" stroke="#1a1a1a" stroke-width="1.1"/>
<circle cx="383.46" cy="287.46" r="2.35" fill="#1a1a1a" stroke="#1a1a1a" stroke-width="1.1"/>
<circle cx="400.50" cy="294.60" r="2.35" fill="#1a1a1a" stroke="#1a1a1a" stroke-width="1.1"/>
<circle cx="434.59" cy="292.32" r="2.35" fill="#1a1a1a" stroke="#1a1a1a" stroke-width="1.1"/>
<circle cx="467.80" cy="296.32" r="2.35" fill="#1a1a1a" stroke="#1a1a1a" stroke-width="1.1"/>
<circle cx="325.78" cy="232.87" r="2.35" fill="#fff" stroke="#1a1a1a" stroke-width="1.1"/>
<circle cx="333.64" cy="251.31" r="2.35" fill="#fff" stroke="#1a1a1a" stroke-width="1.1"/>
<circle cx="342.21" cy="262.02" r="2.35" fill="#fff" stroke="#1a1a1a" stroke-width="1.1"/>
<circle cx="350.25" cy="269.02" r="2.35" fill="#fff" stroke="#1a1a1a" stroke-width="1.1"/>
<circle cx="366.86" cy="284.03" r="2.35" fill="#fff" stroke="#1a1a1a" stroke-width="1.1"/>
<circle cx="383.46" cy="291.46" r="2.35" fill="#fff" stroke="#1a1a1a" stroke-width="1.1"/>
<circle cx="400.50" cy="297.75" r="2.35" fill="#fff" stroke="#1a1a1a" stroke-width="1.1"/>
<circle cx="434.59" cy="305.46" r="2.35" fill="#fff" stroke="#1a1a1a" stroke-width="1.1"/>
<circle cx="467.80" cy="307.18" r="2.35" fill="#fff" stroke="#1a1a1a" stroke-width="1.1"/>
<path d="M331.74,330.30 L335.54,330.30 L333.64,326.90 Z" fill="#1a1a1a"/>
<path d="M348.35,330.30 L352.15,330.30 L350.25,326.90 Z" fill="#1a1a1a"/>
<path d="M364.96,330.30 L368.75,330.30 L366.86,326.90 Z" fill="#1a1a1a"/>
<path d="M381.56,330.30 L385.36,330.30 L383.46,326.90 Z" fill="#1a1a1a"/>
<path d="M398.60,330.30 L402.40,330.30 L400.50,326.90 Z" fill="#1a1a1a"/>
<circle cx="366.60" cy="261.40" r="1.15" fill="#1a1a1a" stroke="none" stroke-width="0"/>
<text x="369.80" y="264.70" font-size="8.3" text-anchor="start" font-weight="normal" fill="#1a1a1a">N.S.</text>
<line x1="394.40" y1="213.00" x2="409.60" y2="213.00" stroke="#1a1a1a" stroke-width="1.2"/>
<circle cx="401.60" cy="213.00" r="1.9" fill="#1a1a1a" stroke="#1a1a1a" stroke-width="1.0"/>
<text x="410.40" y="214.80" font-size="7.7" text-anchor="start" font-weight="normal" fill="#1a1a1a">control</text>
<line x1="394.40" y1="221.50" x2="409.60" y2="221.50" stroke="#1a1a1a" stroke-width="1.2"/>
<circle cx="402.00" cy="221.50" r="1.9" fill="#fff" stroke="#1a1a1a" stroke-width="1.0"/>
<text x="410.40" y="223.90" font-size="7.7" text-anchor="start" font-weight="normal" fill="#1a1a1a">LAD</text>
<path d="M400.80,232.80 L404.80,232.80 L402.80,229.20 Z" fill="#1a1a1a"/>
<text x="411.80" y="232.60" font-size="7.7" text-anchor="start" font-weight="normal" fill="#1a1a1a">LAD on VCAM-1 free substrate</text>
</svg>
</body></html>
